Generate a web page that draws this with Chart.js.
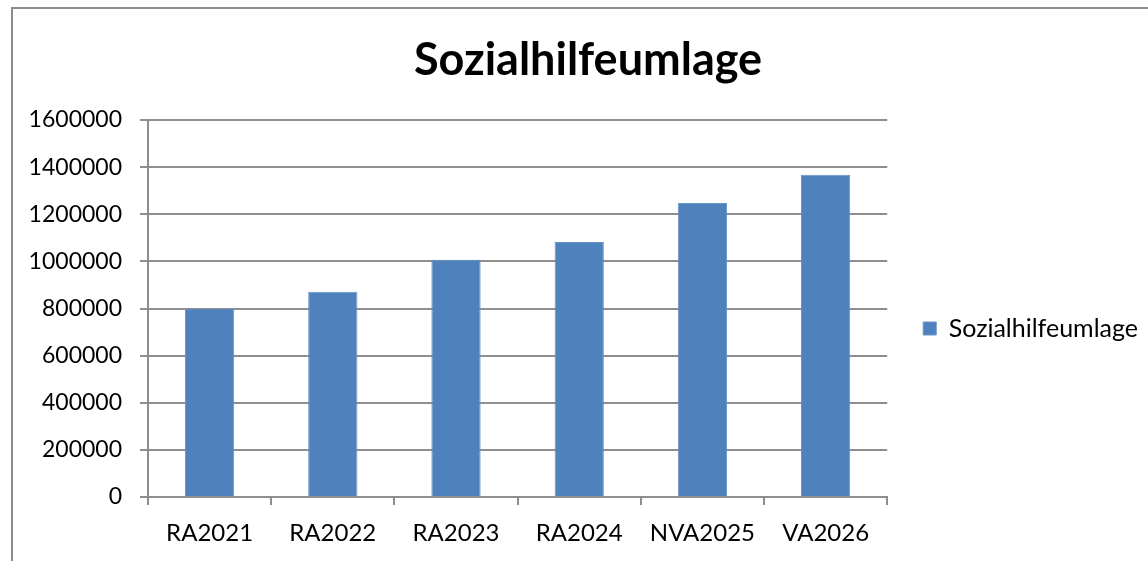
<!DOCTYPE html>
<html>
<head>
<meta charset="utf-8">
<script src="https://cdn.jsdelivr.net/npm/chart.js@4"></script>
<style>
  html, body { margin: 0; padding: 0; background: #fff; }
  #wrap { position: relative; width: 1148px; height: 561px; }
  #frame {
    position: absolute; left: 11px; top: 7px; right: 0; bottom: 0;
    border-left: 2px solid #8c8c8c; border-top: 2px solid #8c8c8c;
    pointer-events: none;
  }
  canvas { position: absolute; left: 0; top: 0; }
</style>
</head>
<body>
<div id="wrap">
  <canvas id="chart" width="1148" height="561"></canvas>
  <div id="frame"></div>
</div>
<script>
// chart data
const categories = ['RA2021', 'RA2022', 'RA2023', 'RA2024', 'NVA2025', 'VA2026'];
const seriesName = 'Sozialhilfeumlage';
const values = [800000, 871000, 1007000, 1082000, 1248000, 1368000];
const yTicks = [0, 200000, 400000, 600000, 800000, 1000000, 1200000, 1400000, 1600000];

const fontFamily = 'Lato, "Open Sans", sans-serif';
const gridColor = '#8e8e8e';

Chart.defaults.font.family = fontFamily;
Chart.defaults.color = '#000';

// title sits a little right of the canvas centre in the original
const shiftTitle = {
    id: 'shiftTitle',
    afterLayout(chart) {
        const t = chart.titleBlock;
        if (t) { t.left += 14; t.right += 14; }
    }
};

const ctx = document.getElementById('chart').getContext('2d');
new Chart(ctx, {
    type: 'bar',
    data: {
        labels: categories,
        datasets: [{
            label: seriesName,
            data: values,
            backgroundColor: '#4f81bd',
            borderColor: '#6a94c8',
            borderWidth: 1,
            barPercentage: 0.4,
            categoryPercentage: 1.0,
            yAxisID: 'y'
        }]
    },
    options: {
        responsive: false,
        animation: false,
        layout: { padding: 0 },
        plugins: {
            title: {
                display: true,
                text: seriesName,
                color: '#000',
                font: { size: 45, weight: 'bold', family: fontFamily },
                padding: { top: 33, bottom: 33 }
            },
            legend: {
                position: 'right',
                maxWidth: 300,
                title: {
                    // empty title, only pushes the entry down a bit
                    display: true,
                    text: '',
                    font: { size: 10 },
                    padding: { top: 42, bottom: 42 }
                },
                labels: {
                    boxWidth: 13,
                    boxHeight: 13,
                    padding: 8,
                    color: '#000',
                    font: { size: 25, family: fontFamily }
                }
            },
            tooltip: { enabled: false }
        },
        scales: {
            x: {
                offset: true,
                grid: {
                    offset: true,
                    drawOnChartArea: false,
                    drawTicks: true,
                    tickLength: 8,
                    color: gridColor,
                    lineWidth: 2
                },
                border: { color: gridColor, width: 2 },
                ticks: {
                    padding: 14,
                    color: '#000',
                    font: { size: 24, family: fontFamily }
                },
                afterFit: function (scale) { scale.height = 64; }
            },
            y: {
                position: 'left',
                min: 0,
                max: yTicks[yTicks.length - 1],
                afterBuildTicks: function (scale) {
                    scale.ticks = yTicks.map(v => ({ value: v }));
                },
                grid: {
                    color: gridColor,
                    lineWidth: 2,
                    drawTicks: true,
                    tickLength: 8
                },
                border: { color: gridColor, width: 2 },
                ticks: {
                    padding: 18,
                    color: '#000',
                    font: { size: 23, family: fontFamily },
                    callback: v => String(v)
                },
                afterFit: function (scale) { scale.width = 148; }
            },
            gap: {
                position: 'right',
                display: true,
                grid: { display: false, drawOnChartArea: false },
                border: { display: false },
                ticks: { display: false },
                afterFit: function (scale) { scale.width = 28; }
            }
        }
    },
    plugins: [shiftTitle]
});
</script>
</body>
</html>
